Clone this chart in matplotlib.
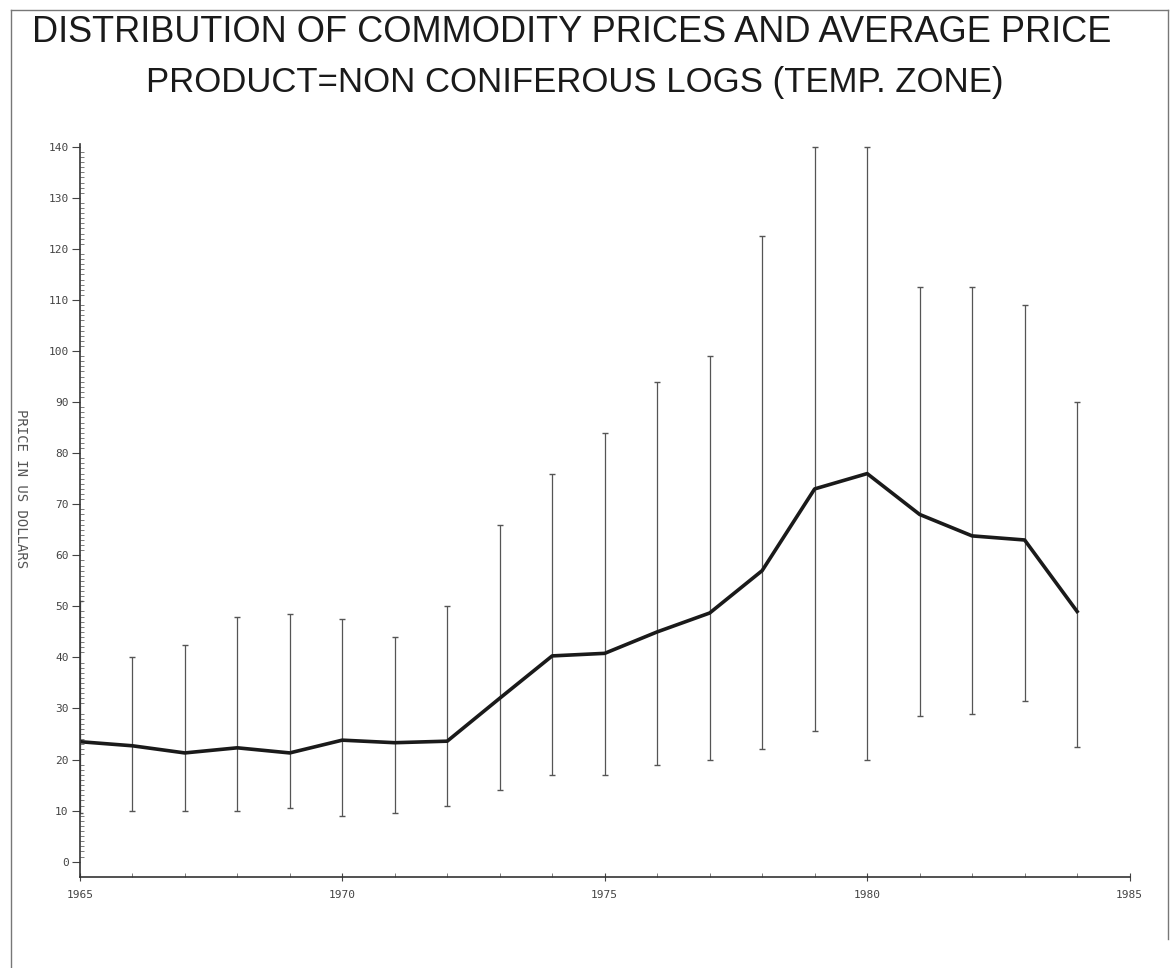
import matplotlib.pyplot as plt
from matplotlib.lines import Line2D

# data (US dollars)
years = [1965, 1966, 1967, 1968, 1969, 1970, 1971, 1972, 1973, 1974,
         1975, 1976, 1977, 1978, 1979, 1980, 1981, 1982, 1983, 1984]
price_min = [9.5, 10, 10, 10, 10.5, 9, 9.5, 11, 14, 17,
             17, 19, 20, 22, 25.5, 20, 28.5, 29, 31.5, 22.5]
price_max = [51, 40, 42.5, 48, 48.5, 47.5, 44, 50, 66, 76,
             84, 94, 99, 122.5, 140, 140, 112.5, 112.5, 109, 90]
price_avg = [23.5, 22.7, 21.3, 22.3, 21.3, 23.8, 23.3, 23.6, 32, 40.3,
             40.8, 45, 48.7, 57, 73, 76, 68, 63.8, 63, 49]

xticks = [1965, 1970, 1975, 1980, 1985]
yticks = list(range(0, 141, 10))

fig = plt.figure(figsize=(11.73, 9.68), dpi=100)
ax = fig.add_axes([0.068, 0.094, 0.895, 0.757])

# range of prices for each year
ax.vlines(years, price_min, price_max, color='#555555', linewidth=0.9)
ax.plot(years, price_min, linestyle='none', marker='_', color='#555555', markersize=5)
ax.plot(years, price_max, linestyle='none', marker='_', color='#555555', markersize=5)

# average price
ax.plot(years, price_avg, color='#1a1a1a', linewidth=2.6)

ax.set_xlim(1965, 1985)
ax.set_ylim(-3, 140.5)
ax.set_xticks(xticks)
ax.set_xticks(years + [1985], minor=True)
ax.set_yticks(yticks)
ax.set_yticks(range(0, 141), minor=True)

mono = {'family': 'DejaVu Sans Mono', 'size': 8, 'color': '#444444'}
ax.set_xticklabels([str(t) for t in xticks], fontdict=mono)
ax.set_yticklabels([str(t) for t in yticks], fontdict=mono)
ax.tick_params(axis='y', which='major', direction='out', length=6, width=0.8, color='#444444', pad=2)
ax.tick_params(axis='y', which='minor', direction='in', length=3, width=0.6, color='#666666')
ax.tick_params(axis='x', which='major', direction='inout', length=6, width=0.8, color='#444444', pad=6)
ax.tick_params(axis='x', which='minor', direction='in', length=3, width=0.6, color='#666666')

for s in ['top', 'right']:
    ax.spines[s].set_visible(False)
for s in ['left', 'bottom']:
    ax.spines[s].set_color('#333333')
    ax.spines[s].set_linewidth(1.2)

fig.text(0.018, 0.495, 'PRICE IN US DOLLARS', rotation=270, ha='center', va='center',
         fontfamily='DejaVu Sans Mono', fontsize=10, color='#555555')

title_font = ['Liberation Sans', 'DejaVu Sans']
fig.text(0.487, 0.966, 'DISTRIBUTION OF COMMODITY PRICES AND AVERAGE PRICE',
         ha='center', va='center', fontsize=26, family=title_font, color='#1a1a1a')
fig.text(0.49, 0.915, 'PRODUCT=NON CONIFEROUS LOGS (TEMP. ZONE)',
         ha='center', va='center', fontsize=25, family=title_font, color='#1a1a1a')

# scanned page border
fig.add_artist(Line2D([0.009, 0.009], [0.0, 0.99], color='#777777', linewidth=1))
fig.add_artist(Line2D([0.009, 0.996], [0.99, 0.99], color='#777777', linewidth=1))
fig.add_artist(Line2D([0.996, 0.996], [0.03, 0.99], color='#777777', linewidth=1))

fig.savefig('out.png', dpi=100)
